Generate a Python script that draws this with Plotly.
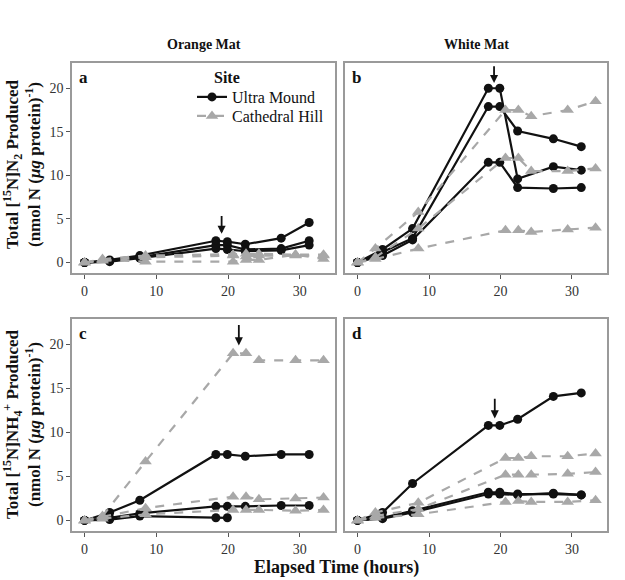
import plotly.graph_objects as go

# ---------------- data ----------------
UM_T = [0, 3.5, 7.7, 18.3, 19.9, 22.4, 27.4, 31.3]
CH_T = [0, 2.5, 8.5, 20.7, 22.5, 24.3, 29.4, 33.3]

# Panel a: Orange Mat, [15N]N2
a_um = [
    [0, 0.3, 0.8, 2.5, 2.4, 2.1, 2.8, 4.6],
    [0, 0.2, 0.6, 2.0, 2.0, 1.5, 1.6, 2.5],
    [0, 0.1, 0.5, 1.6, 1.5, 1.3, 1.4, 2.0],
]
a_ch = [
    [0, 0.4, 0.8, 0.9, 1.0, 1.0, 0.9, 0.9],
    [0, 0.3, 0.1, 0.1, 0.3, 0.3, 0.9, 0.4],
    [0, 0.2, 0.6, 0.8, 0.7, 0.8, 0.8, 0.8],
]
# Panel b: White Mat, [15N]N2
b_um = [
    [0, 1.5, 3.9, 20.0, 20.0, 9.6, 11.0, 10.6],
    [0, 1.2, 2.8, 17.9, 17.9, 15.1, 14.2, 13.3],
    [0, 0.8, 2.6, 11.5, 11.5, 8.6, 8.5, 8.6],
]
b_ch = [
    [0, 1.6, 5.8, 17.5, 17.5, 16.8, 17.5, 18.5],
    [0, 0.6, 3.9, 12.0, 12.0, 10.5, 10.5, 10.8],
    [0, 0.4, 1.6, 3.7, 3.7, 3.5, 3.8, 4.0],
]
# Panel c: Orange Mat, [15N]NH4+
c_um = [
    [0, 0.9, 2.3, 7.5, 7.5, 7.3, 7.5, 7.5],
    [0, 0.3, 0.8, 1.6, 1.6, 1.6, 1.7, 1.7],
    [0, 0.1, 0.5, 0.3, 0.3, None, None, None],
]
c_ch = [
    [0, 0.5, 6.7, 19.0, 19.0, 18.2, 18.2, 18.2],
    [0, 0.4, 1.4, 2.7, 2.7, 2.4, 2.5, 2.6],
    [0, 0.2, 0.7, 1.2, 1.2, 1.2, 1.1, 1.2],
]
# Panel d: White Mat, [15N]NH4+
d_um = [
    [0, 0.9, 4.2, 10.8, 10.8, 11.5, 14.1, 14.5],
    [0, 0.3, 1.1, 3.2, 3.2, 3.0, 3.0, 2.9],
    [0, 0.2, 0.9, 3.0, 3.0, 2.9, 3.1, 2.9],
]
d_ch = [
    [0, 0.9, 2.0, 7.1, 7.1, 7.3, 7.3, 7.6],
    [0, 0.5, 1.3, 5.2, 5.2, 5.2, 5.3, 5.5],
    [0, 0.3, 0.7, 2.1, 2.2, 2.1, 2.1, 2.3],
]

# arrows: (x, y_tail, y_head)
arrows = {
    "a": (19.1, 5.5, 3.3),
    "b": (19.1, 22.7, 20.6),
    "c": (21.5, 22.4, 19.9),
    "d": (19.2, 14.0, 11.6),
}

col_titles = ["Orange Mat", "White Mat"]
x_ticks = [0, 10, 20, 30]
y_ticks = [0, 5, 10, 15, 20]

# ---------------- figure ----------------
FONT = "Liberation Serif"
BLACK = "#111111"
GREY = "#a8a8a8"

fig = go.Figure()

panels = [
    ("a", a_um, a_ch, "x", "y"),
    ("b", b_um, b_ch, "x2", "y2"),
    ("c", c_um, c_ch, "x3", "y3"),
    ("d", d_um, d_ch, "x4", "y4"),
]

first = True
for key, um, ch, xa, ya in panels:
    for i, s in enumerate(um):
        fig.add_trace(go.Scatter(
            x=UM_T, y=s, xaxis=xa, yaxis=ya, mode="lines+markers",
            line=dict(color=BLACK, width=2.2),
            marker=dict(symbol="circle", size=9, color=BLACK),
            name="Ultra Mound", legendgroup="um", legend="legend",
            showlegend=(first and i == 0), connectgaps=False,
        ))
    for i, s in enumerate(ch):
        fig.add_trace(go.Scatter(
            x=CH_T, y=s, xaxis=xa, yaxis=ya, mode="lines+markers",
            line=dict(color=GREY, width=2.2, dash="dash"),
            marker=dict(symbol="triangle-up", size=11, color=GREY),
            name="Cathedral Hill", legendgroup="ch", legend="legend2",
            showlegend=(first and i == 0),
        ))
    first = False

axmap = {"a": ("x", "y"), "b": ("x2", "y2"), "c": ("x3", "y3"), "d": ("x4", "y4")}
for k, (ax_x, y0, y1) in arrows.items():
    xr, yr = axmap[k]
    fig.add_annotation(
        x=ax_x, y=y1, ax=ax_x, ay=y0, xref=xr, yref=yr, axref=xr, ayref=yr,
        showarrow=True, arrowhead=2, arrowsize=0.9, arrowwidth=1.8,
        arrowcolor=BLACK, text="",
    )

for k, (xr, yr) in axmap.items():
    fig.add_annotation(
        x=0.02, y=0.985, xref=f"{xr} domain", yref=f"{yr} domain",
        text=f"<b>{k}</b>", showarrow=False, xanchor="left", yanchor="top",
        font=dict(family=FONT, size=17, color=BLACK),
    )

# ---- geometry in reference pixels (page body margin removed below) ----
W, H = 625, 580
PL, PR, PT, PB = 72, 607, 63, 531
L, R, T, B = PL, W - PR, PT, H - PB
pw = PR - PL
ph = PB - PT

def px_x(p):
    return (p - PL) / pw

def px_y(p):
    return (PB - p) / ph

xa_dom = [0, px_x(335)]
xb_dom = [px_x(345), 1]
ytop_dom = [px_y(273), 1]
ybot_dom = [0, px_y(319)]

XR = [-1.75, 34.9]
YR = [-1.2, 22.9]

axis_common = dict(
    showline=True, mirror=True, linecolor="#9a9a9a", linewidth=1.5,
    showgrid=False, zeroline=False, ticks="outside", ticklen=4,
    tickcolor="#555555", tickwidth=1,
    tickfont=dict(family=FONT, size=14, color="#333333"),
)

fig.update_layout(
    xaxis=dict(domain=xa_dom, range=XR, anchor="y", tickvals=x_ticks, **axis_common),
    xaxis2=dict(domain=xb_dom, range=XR, anchor="y2", tickvals=x_ticks, **axis_common),
    xaxis3=dict(domain=xa_dom, range=XR, anchor="y3", tickvals=x_ticks, **axis_common),
    xaxis4=dict(domain=xb_dom, range=XR, anchor="y4", tickvals=x_ticks, **axis_common),
    yaxis=dict(domain=ytop_dom, range=YR, anchor="x", tickvals=y_ticks, **axis_common),
    yaxis2=dict(domain=ytop_dom, range=YR, anchor="x2", tickvals=y_ticks,
                **{**axis_common, "ticks": "", "showticklabels": False}),
    yaxis3=dict(domain=ybot_dom, range=YR, anchor="x3", tickvals=y_ticks, **axis_common),
    yaxis4=dict(domain=ybot_dom, range=YR, anchor="x4", tickvals=y_ticks,
                **{**axis_common, "ticks": "", "showticklabels": False}),
)

for txt, dom in zip(col_titles, [xa_dom, xb_dom]):
    fig.add_annotation(
        x=(dom[0] + dom[1]) / 2, y=px_y(45), xref="paper", yref="paper",
        text=f"<b>{txt}</b>", showarrow=False, xanchor="center", yanchor="middle",
        font=dict(family=FONT, size=14, color=BLACK),
    )

ytitles = [
    ("<b>Total [<sup>15</sup>N]N<sub>2</sub> Produced<br>(nmol N (<i>μg</i> protein)<sup>-1</sup>)</b>",
     px_y(164)),
    ("<b>Total [<sup>15</sup>N]NH<sub>4</sub><sup>+</sup> Produced<br>(nmol N (<i>μg</i> protein)<sup>-1</sup>)</b>",
     px_y(424)),
]
for txt, yy in ytitles:
    fig.add_annotation(
        x=px_x(22), y=yy, xref="paper", yref="paper", text=txt,
        showarrow=False, textangle=-90, xanchor="center", yanchor="middle",
        font=dict(family=FONT, size=17, color=BLACK),
    )

fig.add_annotation(
    x=px_x(336), y=px_y(567), xref="paper", yref="paper",
    text="<b>Elapsed Time (hours)</b>", showarrow=False,
    xanchor="center", yanchor="middle",
    font=dict(family=FONT, size=18, color=BLACK),
)

# legend title as separate text, aligned with the key symbols
fig.add_annotation(
    x=px_x(212), y=px_y(77), xref="paper", yref="paper",
    text="<b>Site</b>", showarrow=False, xanchor="left", yanchor="middle",
    font=dict(family=FONT, size=16, color=BLACK),
)

legend_common = dict(
    xanchor="left", yanchor="middle",
    bgcolor="rgba(0,0,0,0)", borderwidth=0,
    font=dict(family=FONT, size=16, color=BLACK),
    tracegroupgap=0, itemsizing="trace", itemwidth=30,
)

fig.update_layout(
    width=W, height=H,
    margin=dict(l=L, r=R, t=T, b=B, autoexpand=False),
    paper_bgcolor="white", plot_bgcolor="white",
    font=dict(family=FONT, color=BLACK),
    legend=dict(x=px_x(192), y=px_y(97), **legend_common),
    legend2=dict(x=px_x(192), y=px_y(116), **legend_common),
)

fig.write_html(
    "out.html",
    config={"displayModeBar": False},
    post_script="document.body.style.margin='0px';document.body.style.padding='0px';",
)
